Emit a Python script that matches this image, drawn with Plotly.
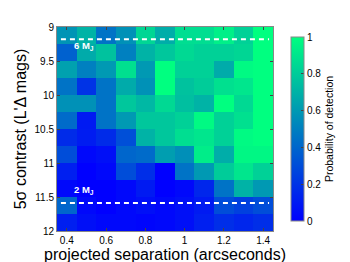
import plotly.graph_objects as go

separation = [0.4, 0.5, 0.6, 0.7, 0.8, 0.9, 1.0, 1.1, 1.2, 1.3, 1.4]
contrast = [9.125, 9.375, 9.625, 9.875, 10.125, 10.375, 10.625, 10.875, 11.125, 11.375, 11.625, 11.875]

prob = [
    [0.58, 0.70, 0.45, 0.57, 0.84, 0.68, 0.87, 0.87, 0.94, 0.82, 1.00],
    [0.38, 0.67, 0.76, 0.50, 0.70, 0.78, 0.85, 0.82, 0.82, 0.84, 1.00],
    [0.63, 0.50, 0.60, 0.88, 0.60, 1.00, 0.82, 0.82, 0.67, 0.98, 1.00],
    [0.45, 0.20, 0.45, 0.67, 0.57, 1.00, 0.76, 0.80, 0.88, 0.90, 1.00],
    [0.57, 0.57, 0.45, 0.78, 0.72, 0.85, 0.75, 0.70, 1.00, 0.85, 1.00],
    [0.42, 0.10, 0.45, 0.60, 0.78, 0.78, 0.82, 0.98, 0.82, 0.88, 1.00],
    [0.17, 0.11, 0.17, 0.31, 0.70, 0.78, 0.87, 0.90, 0.82, 0.98, 1.00],
    [0.30, 0.03, 0.06, 0.40, 0.42, 0.62, 0.56, 0.93, 0.68, 0.97, 0.97],
    [0.12, 0.00, 0.03, 0.30, 0.18, 0.00, 0.45, 0.60, 0.80, 0.90, 0.82],
    [0.03, 0.00, 0.00, 0.03, 0.10, 0.00, 0.03, 0.15, 0.45, 0.70, 0.60],
    [0.40, 0.03, 0.00, 0.03, 0.06, 0.03, 0.06, 0.10, 0.30, 0.25, 0.30],
    [0.12, 0.06, 0.03, 0.03, 0.02, 0.03, 0.06, 0.12, 0.18, 0.15, 0.18],
]

mass_lines = [9.18, 11.59]
mass_labels = ["6 M<sub>J</sub>", "2 M<sub>J</sub>"]
mass_label_y = [9.28, 11.40]
line_x = [0.37, 1.43]
label_x = 0.49

x_ticks = [0.4, 0.6, 0.8, 1.0, 1.2, 1.4]
x_ticktext = ["0.4", "0.6", "0.8", "1", "1.2", "1.4"]
y_ticks = [9, 9.5, 10, 10.5, 11, 11.5, 12]
y_ticktext = ["9", "9.5", "10", "10.5", "11", "11.5", "12"]
cb_ticks = [0, 0.2, 0.4, 0.6, 0.8, 1]
cb_ticktext = ["0", "0.2", "0.4", "0.6", "0.8", "1"]

winter = [[0, "rgb(0,0,255)"], [1, "rgb(0,255,128)"]]

fig = go.Figure()
fig.add_trace(go.Heatmap(
    x=separation, y=contrast, z=prob, zmin=0, zmax=1,
    colorscale=winter,
    colorbar=dict(
        x=1.036, xanchor="left", y=0.5, yanchor="middle", len=1, lenmode="fraction",
        thickness=13, outlinewidth=1, outlinecolor="#888",
        tickvals=cb_ticks, ticktext=cb_ticktext, ticks="inside", ticklen=3,
        tickcolor="#444", tickfont=dict(size=10, color="black", family="Liberation Sans"),
        title=dict(text="Probability of detection", side="right",
                   font=dict(size=10.5, color="black", family="Liberation Sans")),
    ),
    showscale=True, hoverinfo="skip",
))

for yv in mass_lines:
    fig.add_trace(go.Scatter(
        x=line_x, y=[yv, yv], mode="lines",
        line=dict(color="white", width=2, dash="5px,4px"),
        showlegend=False, hoverinfo="skip",
    ))

for txt, yv in zip(mass_labels, mass_label_y):
    fig.add_annotation(x=label_x, y=yv, text="<b>" + txt + "</b>", showarrow=False,
                       font=dict(size=9.5, color="white", family="Liberation Sans"),
                       xanchor="center", yanchor="middle")

axis_common = dict(showline=True, linecolor="#888", linewidth=1, mirror="ticks",
                   ticks="inside", ticklen=3, tickcolor="#444", showgrid=False, zeroline=False,
                   tickfont=dict(size=10, color="black", family="Liberation Sans"))

fig.update_xaxes(range=[0.35, 1.45], tickvals=x_ticks, ticktext=x_ticktext,
                 title=dict(text="projected separation (arcseconds)", standoff=1,
                            font=dict(size=16, color="black", family="Liberation Sans")),
                 **axis_common)
fig.update_yaxes(range=[12, 9], tickvals=y_ticks, ticktext=y_ticktext,
                 title=dict(text="5σ contrast (L'Δ mags)", standoff=3,
                            font=dict(size=16, color="black", family="Liberation Sans")),
                 **axis_common)

fig.update_layout(
    width=350, height=262,
    margin=dict(l=47.5, r=65.3, t=19.3, b=31, pad=0),
    paper_bgcolor="white", plot_bgcolor="white",
    showlegend=False,
)

fig.write_html("out.html")
